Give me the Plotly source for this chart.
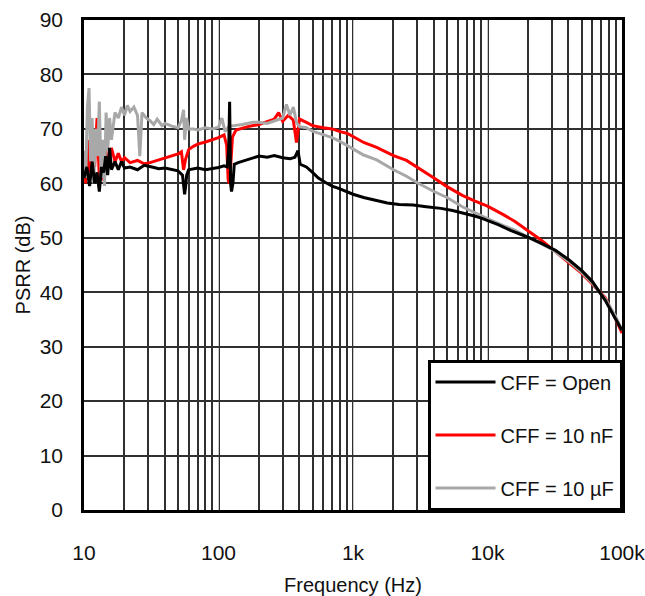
import plotly.graph_objects as go

# ---- data ----
freq_open = [10, 10.5, 11, 11.5, 12, 12.5, 13, 13.5, 14, 14.5, 15, 15.5, 16, 17, 18, 19, 20, 22, 25, 28,
             32, 36, 40, 45, 50, 54, 56, 57, 58, 60, 65, 70, 80, 90, 100, 110, 116, 119, 121, 123,
             125, 128, 131, 140, 160, 180, 200, 230, 260, 300, 340, 370, 390, 405, 450, 500, 550, 620,
             700, 800, 900, 1000, 1200, 1500, 1800, 2200, 2800, 3500, 4500, 5500, 6500, 8000, 9000,
             10000, 12000, 15000, 20000, 25000, 32000, 40000, 50000, 60000, 75000, 90000, 100000]
psrr_open = [61, 63, 59.5, 64, 60, 62, 58.5, 63, 62, 65, 61.5, 66.5, 62.5, 64, 62.5, 64, 62.8, 63, 62.5, 63.3,
             63, 62.7, 62.8, 62.5, 62.3, 61.5, 58, 59.5, 61.5, 62.5, 62.6, 62.8, 62.5, 62.7, 62.9, 63.2, 63, 66, 75, 60,
             58.5, 60, 63.5, 63.8, 64.3, 64.7, 65, 64.8, 65.1, 64.7, 64.5, 64.8, 66, 63.5, 63, 62, 61, 60.2,
             59.5, 59, 58.5, 58, 57.4, 56.8, 56.4, 56.1, 56, 55.7, 55.4, 55, 54.6, 54, 53.6,
             53.2, 52.4, 51.3, 50.1, 49, 47.7, 46, 44, 42, 38.5, 35, 33]

freq_10n = [10, 10.3, 10.6, 11, 11.5, 12, 12.5, 13, 13.5, 14, 14.5, 15, 16, 17, 18, 19, 20, 22, 25, 28,
            31, 35, 40, 45, 50, 53, 55, 57, 60, 65, 70, 80, 90, 100, 110, 115, 118, 120, 123, 127,
            135, 150, 170, 200, 230, 260, 280, 300, 330, 360, 380, 400, 450, 500, 600, 700, 800, 900,
            1000, 1200, 1500, 2000, 2500, 3000, 4000, 5000, 6500, 8000, 10000, 13000, 16000, 20000,
            25000, 30000, 40000, 50000, 60000, 75000, 90000, 100000]
psrr_10n = [65, 60, 68, 62, 66, 63, 72, 61, 67, 60.5, 66, 63, 66.5, 64, 65.5, 64, 64.7, 63.8, 64.2, 63.6,
            63.8, 64.2, 64.6, 65, 65.4, 65.8, 62.5, 64.5, 66.2, 66.8, 67.2, 67.6, 68, 68.4, 68.9, 67, 60.6, 60, 63, 68.5,
            69.8, 70.1, 70.5, 70.8, 71.3, 71.8, 73, 71.4, 72.5, 71.6, 67.5, 71.8, 71.2, 70.6, 70.2, 70, 69.5, 69.2,
            68.6, 67.5, 66.6, 65.1, 64.2, 63, 61, 59.4, 57.8, 56.8, 55.8, 54.3, 53, 51.3,
            49.6, 48, 45.5, 43.5, 41.5, 39, 35, 32.5]

freq_10u = [10, 10.3, 10.6, 10.9, 11.2, 11.5, 11.8, 12.2, 12.6, 13, 13.4, 13.8, 14.2, 14.6, 15, 15.5, 16, 17,
            18, 19, 20, 21, 22, 23.5, 25, 26, 27, 29, 31, 33, 35, 38, 40, 45, 50, 53, 55, 56, 58, 60, 65,
            70, 80, 90, 100, 106, 112, 120, 130, 150, 180, 200, 230, 260, 300, 320, 340, 360, 380, 400,
            450, 500, 600, 700, 800, 1000, 1200, 1500, 2000, 2500, 3000, 4000, 5000, 6500, 8000, 10000,
            13000, 16000, 20000, 25000, 30000, 40000, 50000, 60000, 75000, 90000, 100000]
psrr_10u = [66, 61, 74, 77.5, 64, 72, 60, 70, 65, 75, 61, 68, 59.5, 73, 66, 72, 68, 73,
            72, 74, 72.5, 74.3, 73.2, 74, 72.5, 65, 73, 72, 71.5, 70.8, 71.8, 70.6, 71, 70.5, 70.2, 71.5, 73.5, 68, 72, 70, 70,
            69.8, 70.2, 70, 70.3, 72, 69.5, 70.5, 70.6, 70.8, 71.2, 71.2, 71, 71.5, 72, 74.5, 72.5, 74, 71.2, 70.4,
            70.2, 69.6, 69, 68.4, 67.7, 66.3, 65.2, 64.3, 62.5, 61.3, 60.1, 58.5, 57.4, 55.7, 54.6, 53.5,
            52.3, 51.4, 50.1, 48.9, 47.9, 45.7, 43.7, 41.7, 38.8, 35.5, 33]

tick_vals = [10, 100, 1000, 10000, 100000]
tick_text = ["10", "100", "1k", "10k", "100k"]

FONT = "Liberation Sans, Arial, sans-serif"

fig = go.Figure()
fig.add_trace(go.Scatter(x=freq_10n, y=psrr_10n, mode="lines", name="CFF = 10 nF",
                         line=dict(color="#ff0000", width=3), legendrank=2, legendgroup="b"))
fig.add_trace(go.Scatter(x=freq_10u, y=psrr_10u, mode="lines", name="CFF = 10 µF",
                         line=dict(color="#a8a8a8", width=3), legendrank=3, legendgroup="c"))
fig.add_trace(go.Scatter(x=freq_open, y=psrr_open, mode="lines", name="CFF = Open",
                         line=dict(color="#000000", width=3), legendrank=1, legendgroup="a"))

fig.update_layout(
    width=645, height=596,
    margin=dict(l=84, r=23, t=20, b=86),
    paper_bgcolor="white", plot_bgcolor="white",
    font=dict(family=FONT, size=21, color="#111111"),
    showlegend=True,
    legend=dict(x=1, y=0, xanchor="right", yanchor="bottom",
                bgcolor="white", bordercolor="#000000", borderwidth=2.5,
                font=dict(size=20), tracegroupgap=24, itemwidth=60,
                traceorder="grouped"),
)
fig.update_xaxes(
    type="log", range=[1, 5], automargin=False,
    tickvals=tick_vals, ticktext=tick_text, ticklabeloverflow="allow",
    showgrid=True, gridcolor="#c8c8c8", gridwidth=1,
    minor=dict(dtick="D1", showgrid=True, gridcolor="#303030", gridwidth=1.5, ticks=""),
    showline=True, linecolor="#000000", linewidth=2.5, mirror=True,
    ticks="", ticklabelstandoff=22,
    title=dict(text="Frequency (Hz)", standoff=24, font=dict(size=20)),
    zeroline=False,
)
fig.update_yaxes(
    range=[0, 90], dtick=10, automargin=False,
    showgrid=True, gridcolor="#303030", gridwidth=1.5,
    showline=True, linecolor="#000000", linewidth=2.5, mirror=True,
    ticks="", ticklabelstandoff=14,
    title=dict(text="PSRR (dB)", standoff=4, font=dict(size=20)),
    zeroline=False,
)

fig.write_html("out.html")
